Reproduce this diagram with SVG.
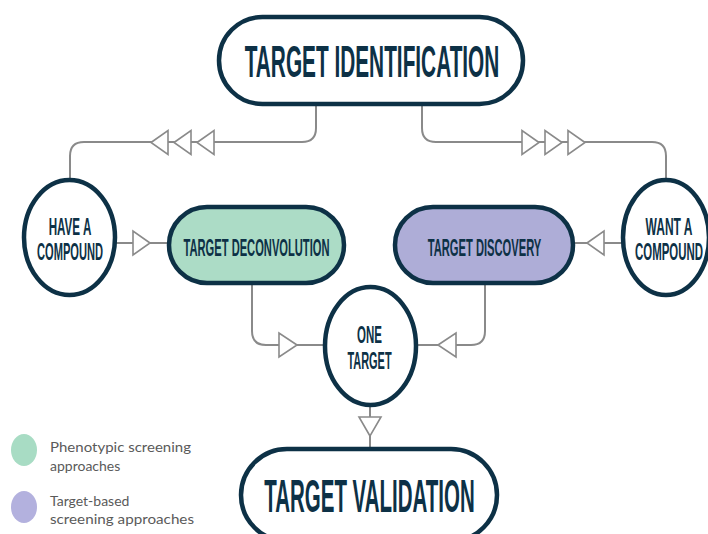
<svg xmlns="http://www.w3.org/2000/svg" width="708" height="534" viewBox="0 0 708 534">
<style>
.node{stroke:#0d3146;stroke-width:4.5;}
.t{font-family:"Liberation Sans",Arial,sans-serif;font-weight:bold;fill:#0d3146;text-anchor:middle;}
.conn{fill:none;stroke:#8a8a8a;stroke-width:2;}
.tri{fill:#fff;stroke:#8a8a8a;stroke-width:1.6;stroke-linejoin:miter;}
.leg{font-family:"Lato","Open Sans",sans-serif;font-size:14px;fill:#5a5a5a;}
</style>
<rect width="708" height="534" fill="#fff"/>
<g id="connectors">
  <path class="conn" d="M316 104 V128 Q316 142 302 142 H84 Q70 142 70 156 V180"/>
  <path class="conn" d="M422 104 V128 Q422 142 436 142 H652 Q666 142 666 156 V180"/>
  <path class="conn" d="M115 243 H169"/>
  <path class="conn" d="M623 243 H573"/>
  <path class="conn" d="M252 285 V331 Q252 345 266 345 H325"/>
  <path class="conn" d="M485 285 V331 Q485 345 471 345 H416"/>
  <path class="conn" d="M370 405 V449"/>
  <polygon class="tri" points="151,142.5 168,130.5 168,154.5"/>
  <polygon class="tri" points="174,142.5 191,130.5 191,154.5"/>
  <polygon class="tri" points="197,142.5 214,130.5 214,154.5"/>
  <polygon class="tri" points="539,142.5 522,130.5 522,154.5"/>
  <polygon class="tri" points="562,142.5 545,130.5 545,154.5"/>
  <polygon class="tri" points="585,142.5 568,130.5 568,154.5"/>
  <polygon class="tri" points="150,243 133,231 133,255"/>
  <polygon class="tri" points="587,243 604,231 604,255"/>
  <polygon class="tri" points="297,345 279,333 279,357"/>
  <polygon class="tri" points="438,345 456,333 456,357"/>
  <polygon class="tri" points="370,436 359,417 381,417"/>
</g>
<g id="target-identification">
  <rect class="node" x="219" y="17" width="304" height="87" rx="43.5" fill="#fff"/>
  <text class="t" font-size="44" transform="translate(372 77) scale(0.473 1)">TARGET IDENTIFICATION</text>
</g>
<g id="have-a-compound">
  <ellipse class="node" cx="69.5" cy="237.5" rx="45.5" ry="57.5" fill="#fff"/>
  <text class="t" font-size="23" transform="translate(70 235) scale(0.506 1)">HAVE A</text>
  <text class="t" font-size="23" transform="translate(70 260) scale(0.483 1)">COMPOUND</text>
</g>
<g id="want-a-compound">
  <ellipse class="node" cx="666" cy="237.5" rx="43" ry="57.5" fill="#fff"/>
  <text class="t" font-size="23" transform="translate(669 235) scale(0.522 1)">WANT A</text>
  <text class="t" font-size="23" transform="translate(669 260) scale(0.497 1)">COMPOUND</text>
</g>
<g id="target-deconvolution">
  <rect class="node" x="169" y="207" width="175" height="76" rx="38" fill="#acdcc6"/>
  <text class="t" font-size="23" transform="translate(256.5 256) scale(0.485 1)">TARGET DECONVOLUTION</text>
</g>
<g id="target-discovery">
  <rect class="node" x="395" y="207" width="178" height="76" rx="38" fill="#aeadd7"/>
  <text class="t" font-size="23" transform="translate(484.5 256) scale(0.486 1)">TARGET DISCOVERY</text>
</g>
<g id="one-target">
  <ellipse class="node" cx="370.5" cy="346" rx="45.5" ry="59" fill="#fff"/>
  <text class="t" font-size="23" transform="translate(369.5 343) scale(0.5 1)">ONE</text>
  <text class="t" font-size="23" transform="translate(369.5 369) scale(0.476 1)">TARGET</text>
</g>
<g id="target-validation">
  <rect class="node" x="241" y="449" width="256" height="92" rx="46" fill="#fff"/>
  <text class="t" font-size="47" transform="translate(369.5 512) scale(0.436 1)">TARGET VALIDATION</text>
</g>
<g id="legend">
  <ellipse cx="24" cy="450" rx="13" ry="16" fill="#a8dcc4"/>
  <text class="leg" x="50" y="452" textLength="141" lengthAdjust="spacingAndGlyphs">Phenotypic screening</text>
  <text class="leg" x="50" y="471">approaches</text>
  <ellipse cx="24" cy="507" rx="13" ry="16" fill="#b3b1de"/>
  <text class="leg" x="50" y="506">Target-based</text>
  <text class="leg" x="50" y="524" textLength="144" lengthAdjust="spacingAndGlyphs">screening approaches</text>
</g>
</svg>
